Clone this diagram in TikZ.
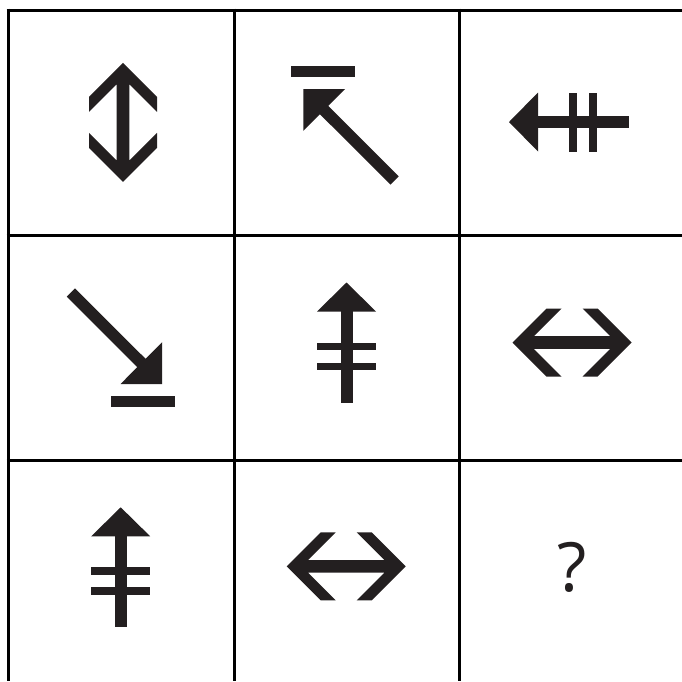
\documentclass[tikz,border=0pt]{standalone}
\usepackage{fontspec}
\usepackage{tikz}
\usepackage{xcolor}
\newfontfamily\qfont{Open Sans}
\definecolor{ink}{HTML}{231F20}
\usetikzlibrary{positioning}

\tikzset{
  gridline/.style={line width=3pt,black},
  dblarrow/.pic={
    \fill[ink] (0,-59.5) -- (34,-25.5) -- (34,-10.5) -- (6.3,-38.2) -- (6.3,38.2) -- (34,10.5)
      -- (34,25.5) -- (0,59.5) -- (-34,25.5) -- (-34,10.5) -- (-6.3,38.2) -- (-6.3,-38.2)
      -- (-34,-10.5) -- (-34,-25.5) -- cycle;
  },
  fishbone/.pic={
    \fill[ink] (0,-65) -- (29.5,-36) -- (-29.5,-36) -- cycle;
    \fill[ink] (-6,-36.5) rectangle (6,55);
    \fill[ink] (-29.5,-5) rectangle (29.5,2.5);
    \fill[ink] (-29.5,15) rectangle (29.5,22.5);
  },
  bararrow/.pic={
    \fill[ink] (-55.5,-56.8) rectangle (8.5,-45.2);
    \fill[ink] (-43.2,-33.5) -- (-1.5,-33.5) -- (-43.2,8.3) -- cycle;
    \draw[ink,line width=11.7pt] (-30,-20) -- (48.1,58);
  }
}

\begin{document}
\begin{tikzpicture}[x=1pt,y=-1pt]
\useasboundingbox (0,0) rectangle (682,681);

\draw[gridline] (6.5,10) -- (682,10);
\draw[gridline] (6.5,235) -- (682,235);
\draw[gridline] (6.5,460) -- (682,460);
\draw[gridline] (8,8.5) -- (8,681);
\draw[gridline] (234,8.5) -- (234,681);
\draw[gridline] (459,8.5) -- (459,681);

\pic at (123,122.3) {dblarrow};
\pic at (346.5,122.5) {bararrow};
\pic[rotate=90] at (574,122) {fishbone};
\pic[rotate=180] at (119,350.5) {bararrow};
\pic at (346.5,347.5) {fishbone};
\pic[rotate=90] at (572,342.5) {dblarrow};
\pic at (120.7,572.3) {fishbone};
\pic[rotate=90] at (346.2,566.3) {dblarrow};
\node[inner sep=0pt,text=ink,font=\qfont\fontsize{68}{68}\selectfont] (q) at (572.2,567) {?};
\end{tikzpicture}
\end{document}
